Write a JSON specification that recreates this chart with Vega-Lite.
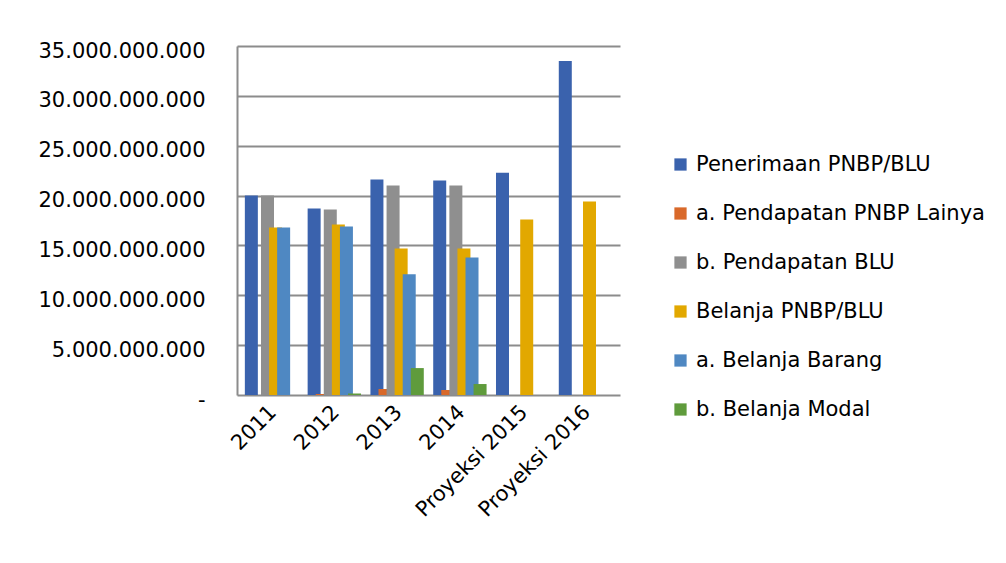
{
  "$schema": "https://vega.github.io/schema/vega-lite/v6.json",
  "width": 383,
  "height": 349,
  "autosize": {"type": "none"},
  "padding": {"left": 237, "top": 46, "right": 386, "bottom": 168},
  "background": "white",
  "data": {
    "values": [
      {"tahun": "2011", "seri": "Penerimaan PNBP/BLU", "nilai": 20000000000},
      {"tahun": "2011", "seri": "b. Pendapatan BLU", "nilai": 20000000000},
      {"tahun": "2011", "seri": "Belanja PNBP/BLU", "nilai": 16800000000},
      {"tahun": "2011", "seri": "a. Belanja Barang", "nilai": 16800000000},
      {"tahun": "2012", "seri": "Penerimaan PNBP/BLU", "nilai": 18700000000},
      {"tahun": "2012", "seri": "a. Pendapatan PNBP Lainya", "nilai": 100000000},
      {"tahun": "2012", "seri": "b. Pendapatan BLU", "nilai": 18600000000},
      {"tahun": "2012", "seri": "Belanja PNBP/BLU", "nilai": 17100000000},
      {"tahun": "2012", "seri": "a. Belanja Barang", "nilai": 16900000000},
      {"tahun": "2012", "seri": "b. Belanja Modal", "nilai": 150000000},
      {"tahun": "2013", "seri": "Penerimaan PNBP/BLU", "nilai": 21600000000},
      {"tahun": "2013", "seri": "a. Pendapatan PNBP Lainya", "nilai": 600000000},
      {"tahun": "2013", "seri": "b. Pendapatan BLU", "nilai": 21000000000},
      {"tahun": "2013", "seri": "Belanja PNBP/BLU", "nilai": 14700000000},
      {"tahun": "2013", "seri": "a. Belanja Barang", "nilai": 12100000000},
      {"tahun": "2013", "seri": "b. Belanja Modal", "nilai": 2700000000},
      {"tahun": "2014", "seri": "Penerimaan PNBP/BLU", "nilai": 21500000000},
      {"tahun": "2014", "seri": "a. Pendapatan PNBP Lainya", "nilai": 500000000},
      {"tahun": "2014", "seri": "b. Pendapatan BLU", "nilai": 21000000000},
      {"tahun": "2014", "seri": "Belanja PNBP/BLU", "nilai": 14700000000},
      {"tahun": "2014", "seri": "a. Belanja Barang", "nilai": 13800000000},
      {"tahun": "2014", "seri": "b. Belanja Modal", "nilai": 1100000000},
      {"tahun": "Proyeksi 2015", "seri": "Penerimaan PNBP/BLU", "nilai": 22300000000},
      {"tahun": "Proyeksi 2015", "seri": "Belanja PNBP/BLU", "nilai": 17600000000},
      {"tahun": "Proyeksi 2016", "seri": "Penerimaan PNBP/BLU", "nilai": 33500000000},
      {"tahun": "Proyeksi 2016", "seri": "Belanja PNBP/BLU", "nilai": 19400000000}
    ]
  },
  "mark": {"type": "bar", "width": 13},
  "encoding": {
    "x": {
      "field": "tahun",
      "type": "nominal",
      "sort": null,
      "scale": {"paddingInner": 0.1, "paddingOuter": 0.1},
      "axis": {
        "title": null,
        "labelAngle": -45,
        "labelFontSize": 21,
        "labelFont": "DejaVu Sans",
        "labelColor": "#000000",
        "labelPadding": 6,
        "labelOffset": -6,
        "ticks": false,
        "domain": false
      }
    },
    "xOffset": {
      "field": "seri",
      "type": "nominal",
      "scale": {"domain": ["Penerimaan PNBP/BLU", "a. Pendapatan PNBP Lainya", "b. Pendapatan BLU", "Belanja PNBP/BLU", "a. Belanja Barang", "b. Belanja Modal"], "paddingInner": 0, "paddingOuter": 0.5}
    },
    "y": {
      "field": "nilai",
      "type": "quantitative",
      "scale": {"domain": [0, 35000000000]},
      "axis": {
        "title": null,
        "values": [0, 5000000000, 10000000000, 15000000000, 20000000000, 25000000000, 30000000000, 35000000000],
        "labelExpr": "datum.value == 0 ? '-' : replace(format(datum.value, ','), regexp(',', 'g'), '.')",
        "labelFontSize": 21,
        "labelFont": "DejaVu Sans",
        "labelColor": "#000000",
        "labelPadding": 32,
        "labelOffset": 5,
        "ticks": false,
        "domain": true,
        "domainColor": "#8c8c8c",
        "domainWidth": 2,
        "grid": true,
        "gridColor": "#8c8c8c",
        "gridWidth": 2
      }
    },
    "color": {
      "field": "seri",
      "type": "nominal",
      "scale": {
        "domain": ["Penerimaan PNBP/BLU", "a. Pendapatan PNBP Lainya", "b. Pendapatan BLU", "Belanja PNBP/BLU", "a. Belanja Barang", "b. Belanja Modal"],
        "range": ["#3a62ad", "#d9692a", "#8f8f8f", "#e2a800", "#4f88c2", "#5f9b3c"]
      },
      "legend": {
        "title": null,
        "orient": "none",
        "legendX": 433,
        "legendY": 108,
        "symbolType": "square",
        "symbolSize": 150,
        "symbolStrokeWidth": 0,
        "labelFontSize": 21,
        "labelFont": "DejaVu Sans",
        "labelColor": "#000000",
        "labelLimit": 400,
        "rowPadding": 27,
        "labelOffset": 5
      }
    }
  },
  "config": {"view": {"stroke": null}}
}
